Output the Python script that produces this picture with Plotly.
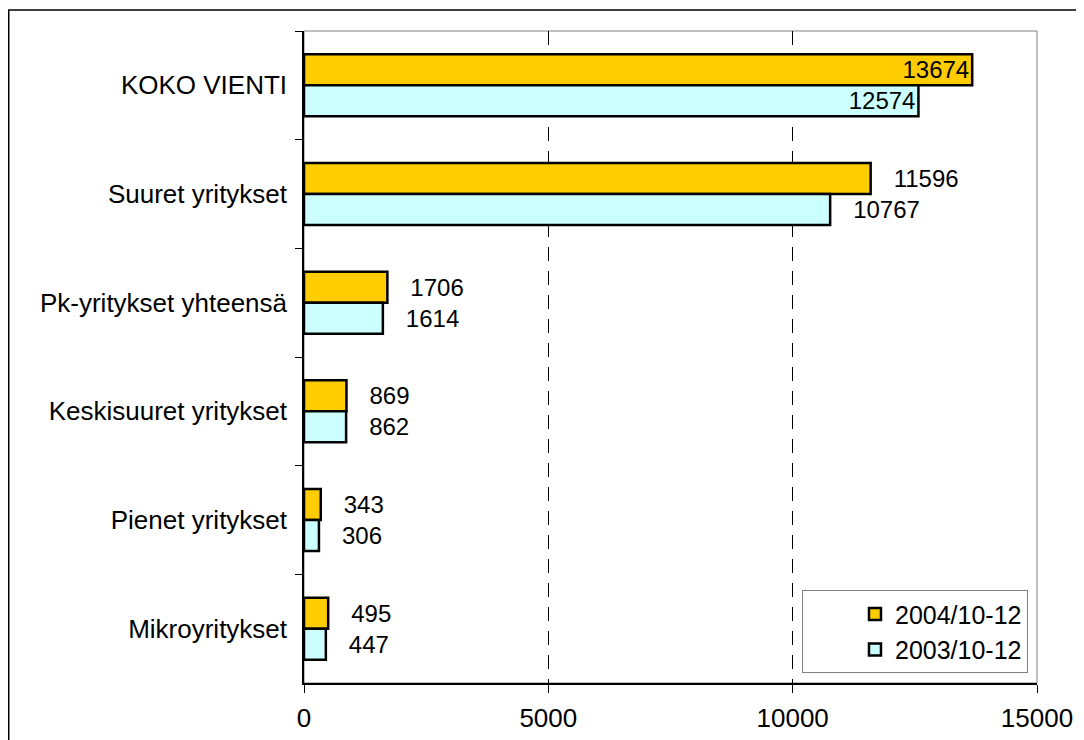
import plotly.graph_objects as go

categories = ["KOKO VIENTI", "Suuret yritykset", "Pk-yritykset yhteensä",
              "Keskisuuret yritykset", "Pienet yritykset", "Mikroyritykset"]
vals_2004 = [13674, 11596, 1706, 869, 343, 495]
vals_2003 = [12574, 10767, 1614, 862, 306, 447]
series_names = ["2004/10-12", "2003/10-12"]
x_ticks = [0, 5000, 10000, 15000]

FONT = "Liberation Sans, Arial, sans-serif"


def label_setup(values):
    # the biggest group keeps its labels inside the bar end, the rest sit outside
    pos = ["inside" if i == 0 else "outside" for i in range(len(values))]
    tmpl = ["%{x:.0f}" if i == 0 else "\u00a0\u00a0\u00a0%{x:.0f}" for i in range(len(values))]
    return pos, tmpl


fig = go.Figure()
for name, vals, color in [(series_names[0], vals_2004, "#FFCC00"),
                          (series_names[1], vals_2003, "#CCFFFF")]:
    pos, tmpl = label_setup(vals)
    fig.add_trace(go.Bar(
        y=categories, x=vals, name=name, orientation="h",
        marker=dict(color=color, line=dict(color="black", width=2.5)),
        textposition=pos, texttemplate=tmpl, insidetextanchor="end",
        textfont=dict(family=FONT, size=24, color="black"),
        cliponaxis=False,
    ))

# page body has an 8px margin, so the figure is 8px smaller each way
fig.update_layout(
    width=1076, height=732,
    margin=dict(l=296, r=47, t=23, b=57),
    paper_bgcolor="white", plot_bgcolor="white",
    font=dict(family=FONT, size=26, color="black"),
    barmode="group", bargap=0.43, bargroupgap=0,
    uniformtext=dict(minsize=24, mode="show"),
    showlegend=True,
    legend=dict(
        x=0.9877, y=0.015, xanchor="right", yanchor="bottom",
        bgcolor="white", bordercolor="#808080", borderwidth=1,
        font=dict(family=FONT, size=25, color="black"),
        indentation=52, entrywidth=234, tracegroupgap=0,
    ),
    shapes=[
        # outer chart border (right and bottom sides fall outside the page)
        dict(type="rect", xref="paper", yref="paper",
             x0=-0.4028, x1=1.2, y0=-0.2, y1=1.0322,
             line=dict(color="black", width=1.5), layer="below"),
        # grey plot area frame
        dict(type="rect", xref="paper", yref="paper",
             x0=0, x1=1, y0=0, y1=1,
             line=dict(color="#808080", width=1), layer="below"),
    ],
)

fig.update_xaxes(
    range=[0, 15000], tickvals=x_ticks, tickformat="d",
    tickfont=dict(size=26), automargin=False,
    showgrid=True, gridcolor="black", gridwidth=1, griddash="14px,10px",
    showline=True, linecolor="black", linewidth=1.5,
    ticks="outside", ticklen=8, tickcolor="black",
    ticklabelstandoff=3, zeroline=False,
)
fig.update_yaxes(
    categoryorder="array", categoryarray=categories, autorange="reversed",
    tickfont=dict(size=26), automargin=False,
    showline=True, linecolor="black", linewidth=1.5,
    ticks="outside", tickson="boundaries", ticklen=7, tickcolor="black",
    ticklabelstandoff=10, showgrid=False,
)

fig.write_html("out.html")
